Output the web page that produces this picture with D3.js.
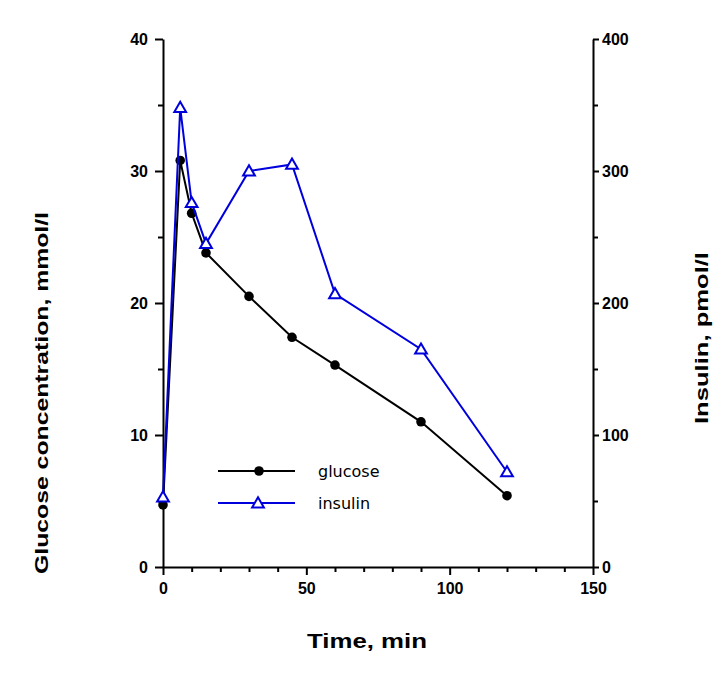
<!DOCTYPE html>
<html><head><meta charset="utf-8">
<script src="https://cdn.jsdelivr.net/npm/d3@7"></script>
<style>body{margin:0;background:#fff}</style>
</head><body>
<svg id="chart" width="724" height="675"></svg>
<script>
const times = [0, 6, 10, 15, 30, 45, 60, 90, 120];
const glucose = [4.7, 30.8, 26.8, 23.8, 20.5, 17.4, 15.3, 11.0, 5.4];
const insulin = [53, 348, 276, 245, 300, 305, 207, 165, 72];
const xTicks = [0, 50, 100, 150];
const xMinor = [10, 20, 30, 40, 60, 70, 80, 90, 110, 120, 130, 140];
const yLeftTicks = [0, 10, 20, 30, 40];
const yLeftMinor = [5, 15, 25, 35];
const yRightTicks = [0, 100, 200, 300, 400];
const yRightMinor = [50, 150, 250, 350];
const seriesNames = ["glucose", "insulin"];

const blue = "#0000dc";
const svg = d3.select("#chart");
const m = {left: 163, top: 39, right: 131, bottom: 108};
const W = 724 - m.left - m.right, H = 675 - m.top - m.bottom;
const g = svg.append("g").attr("transform", `translate(${m.left},${m.top})`);

const x = d3.scaleLinear().domain([0, 150]).range([0, W]);
const yL = d3.scaleLinear().domain([0, 40]).range([H, 0]);
const yR = d3.scaleLinear().domain([0, 400]).range([H, 0]);

function styleAxis(sel) {
  sel.select(".domain").attr("stroke", "#000").attr("stroke-width", 2);
  sel.selectAll(".tick line").attr("stroke", "#000").attr("stroke-width", 2);
  sel.selectAll("text").attr("font-family", "Liberation Sans, Arial, sans-serif")
    .attr("font-weight", "bold").attr("font-size", 16).attr("fill", "#000");
}

// minor ticks
g.append("g").attr("transform", `translate(0,${H})`)
  .call(d3.axisBottom(x).tickValues(xMinor).tickSize(5).tickFormat(""))
  .call(s => { s.select(".domain").remove(); s.selectAll(".tick line").attr("stroke", "#000").attr("stroke-width", 2); });
g.append("g")
  .call(d3.axisLeft(yL).tickValues(yLeftMinor).tickSize(5).tickFormat(""))
  .call(s => { s.select(".domain").remove(); s.selectAll(".tick line").attr("stroke", "#000").attr("stroke-width", 2); });
g.append("g").attr("transform", `translate(${W},0)`)
  .call(d3.axisRight(yR).tickValues(yRightMinor).tickSize(5).tickFormat(""))
  .call(s => { s.select(".domain").remove(); s.selectAll(".tick line").attr("stroke", "#000").attr("stroke-width", 2); });

// major axes
g.append("g").attr("transform", `translate(0,${H})`)
  .call(d3.axisBottom(x).tickValues(xTicks).tickSize(8).tickSizeOuter(0).tickPadding(8))
  .call(styleAxis);
g.append("g")
  .call(d3.axisLeft(yL).tickValues(yLeftTicks).tickSize(8).tickSizeOuter(0).tickPadding(7))
  .call(styleAxis);
g.append("g").attr("transform", `translate(${W},0)`)
  .call(d3.axisRight(yR).tickValues(yRightTicks).tickSize(6).tickSizeOuter(0).tickPadding(3))
  .call(styleAxis);

// glucose series
const gData = times.map((t, i) => [t, glucose[i]]);
const iData = times.map((t, i) => [t, insulin[i]]);
g.append("path").datum(gData)
  .attr("fill", "none").attr("stroke", "#000").attr("stroke-width", 2)
  .attr("d", d3.line().x(d => x(d[0])).y(d => yL(d[1])));
g.selectAll(".gpt").data(gData).join("circle").attr("class", "gpt")
  .attr("cx", d => x(d[0])).attr("cy", d => yL(d[1])).attr("r", 4.8).attr("fill", "#000");

// insulin series
const tri = d3.symbol().type(d3.symbolTriangle).size(60);
g.append("path").datum(iData)
  .attr("fill", "none").attr("stroke", blue).attr("stroke-width", 2)
  .attr("d", d3.line().x(d => x(d[0])).y(d => yR(d[1])));
g.selectAll(".ipt").data(iData).join("path").attr("class", "ipt")
  .attr("transform", d => `translate(${x(d[0])},${yR(d[1]) + 1})`)
  .attr("d", tri).attr("fill", "#fff").attr("stroke", blue).attr("stroke-width", 2);

// legend
const leg = svg.append("g");
const legY = [471, 503];
seriesNames.forEach((name, i) => {
  const col = i === 0 ? "#000" : blue;
  leg.append("line").attr("x1", 218).attr("x2", 295).attr("y1", legY[i]).attr("y2", legY[i])
    .attr("stroke", col).attr("stroke-width", 2);
  if (i === 0) {
    leg.append("circle").attr("cx", 259).attr("cy", legY[i]).attr("r", 4.8).attr("fill", "#000");
  } else {
    leg.append("path").attr("transform", `translate(258,${legY[i] + 1})`).attr("d", tri)
      .attr("fill", "#fff").attr("stroke", blue).attr("stroke-width", 2);
  }
  leg.append("text").attr("x", 318).attr("y", legY[i] + 6)
    .attr("font-family", "DejaVu Sans, Verdana, sans-serif").attr("font-size", 16)
    .attr("fill", "#000").text(name);
});

// axis titles
const titleFont = "Liberation Sans, Arial, sans-serif";
svg.append("text").attr("x", 367).attr("y", 648).attr("text-anchor", "middle")
  .attr("font-family", titleFont).attr("font-weight", "bold").attr("font-size", 20)
  .attr("textLength", 120).attr("lengthAdjust", "spacingAndGlyphs").text("Time, min");
svg.append("text").attr("transform", "translate(48,393) rotate(-90)").attr("text-anchor", "middle")
  .attr("font-family", titleFont).attr("font-weight", "bold").attr("font-size", 19)
  .attr("textLength", 362).attr("lengthAdjust", "spacingAndGlyphs").text("Glucose concentration, mmol/l");
svg.append("text").attr("transform", "translate(708,338) rotate(-90)").attr("text-anchor", "middle")
  .attr("font-family", titleFont).attr("font-weight", "bold").attr("font-size", 19)
  .attr("textLength", 172).attr("lengthAdjust", "spacingAndGlyphs").text("Insulin, pmol/l");
</script>
</body></html>
